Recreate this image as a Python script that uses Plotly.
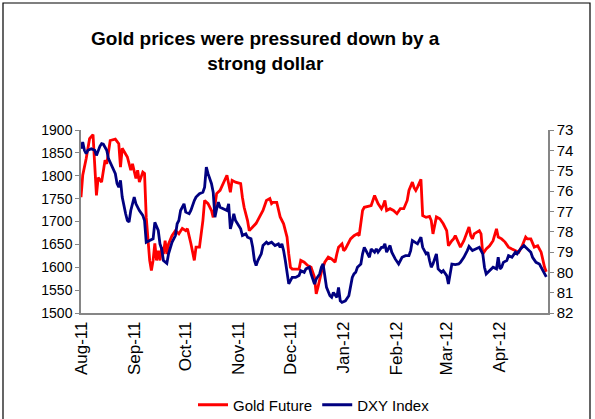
import pandas as pd
import plotly.graph_objects as go

# ---- data ----
start_date = "2011-08-01"   # day 0 of the series below
end_date = "2012-04-29"

# (days since 1-Aug-2011, Gold future price USD/oz)
gold_points = [
    (0, 1753), (1, 1801), (3, 1837), (5, 1881), (7, 1890), (8, 1823), (9, 1757), (10, 1796),
    (12, 1786), (14, 1834), (15, 1826), (17, 1877), (20, 1880), (22, 1870), (23, 1819), (24, 1860),
    (27, 1841), (29, 1812), (30, 1826), (32, 1794), (33, 1812), (34, 1786), (36, 1808), (37, 1805),
    (38, 1709), (40, 1615), (41, 1593), (42, 1615), (43, 1652), (44, 1615), (45, 1636), (46, 1615),
    (47, 1644), (48, 1629), (49, 1658), (50, 1629), (51, 1651), (53, 1669), (55, 1680), (57, 1673),
    (59, 1685), (61, 1680), (62, 1684), (64, 1652), (66, 1615), (67, 1644), (69, 1644), (71, 1702),
    (72, 1746), (74, 1739), (76, 1724), (77, 1709), (78, 1731), (79, 1761), (81, 1768), (83, 1783),
    (85, 1801), (87, 1764), (88, 1790), (90, 1786), (93, 1783), (94, 1753), (95, 1731), (97, 1702),
    (98, 1680), (100, 1688), (102, 1696), (104, 1710), (106, 1724), (108, 1746), (110, 1750),
    (111, 1739), (112, 1742), (114, 1742), (115, 1728), (116, 1710), (118, 1695), (120, 1666),
    (121, 1629), (122, 1600), (123, 1596), (125, 1596), (127, 1596), (128, 1615), (130, 1611),
    (132, 1604), (134, 1600), (136, 1578), (137, 1542), (138, 1556), (139, 1571), (140, 1589),
    (142, 1611), (144, 1622), (146, 1618), (148, 1611), (149, 1629), (150, 1644), (152, 1651),
    (153, 1636), (154, 1640), (156, 1655), (157, 1662), (159, 1669), (161, 1673), (162, 1669),
    (163, 1695), (164, 1724), (165, 1731), (167, 1733), (169, 1735), (171, 1757), (173, 1739),
    (175, 1728), (176, 1735), (177, 1746), (178, 1724), (180, 1728), (182, 1724), (184, 1717),
    (186, 1728), (188, 1728), (190, 1746), (191, 1768), (193, 1786), (194, 1774), (195, 1768),
    (196, 1775), (198, 1792), (199, 1713), (201, 1709), (203, 1711), (204, 1702), (205, 1673),
    (207, 1710), (209, 1706), (211, 1695), (213, 1680), (214, 1647), (216, 1658), (217, 1662),
    (218, 1669), (220, 1651), (221, 1644), (223, 1658), (225, 1677), (226, 1688), (227, 1669),
    (228, 1662), (229, 1673), (231, 1677), (232, 1680), (233, 1673), (234, 1629), (236, 1640),
    (238, 1647), (240, 1658), (242, 1684), (243, 1666), (245, 1662), (247, 1655), (249, 1644),
    (251, 1640), (253, 1637), (255, 1633), (257, 1647), (259, 1666), (260, 1662), (262, 1662),
    (264, 1644), (266, 1647), (268, 1633), (269, 1615), (270, 1600), (271, 1590),
]

# (days since 1-Aug-2011, DXY index level)
dxy_points = [
    (0, 73.92), (1, 73.59), (2, 74.00), (3, 74.16), (4, 74.00), (6, 73.92), (8, 74.00), (9, 74.25),
    (11, 73.80), (12, 73.67), (13, 73.70), (15, 74.00), (16, 74.41), (18, 74.74), (20, 75.15),
    (21, 75.64), (22, 75.81), (23, 75.48), (24, 76.30), (26, 77.12), (27, 77.45), (28, 77.53),
    (29, 76.96), (31, 76.30), (32, 76.63), (34, 76.96), (36, 77.20), (37, 77.45), (38, 78.52),
    (40, 78.44), (42, 78.35), (43, 77.54), (45, 77.94), (46, 78.60), (47, 78.85), (48, 79.42),
    (50, 79.56), (51, 79.09), (52, 78.77), (53, 78.52), (55, 78.19), (56, 77.61), (57, 77.45),
    (58, 76.96), (60, 76.63), (61, 77.04), (63, 77.12), (64, 76.96), (66, 76.47), (67, 76.30),
    (69, 76.13), (71, 76.06), (72, 75.81), (73, 74.82), (74, 75.15), (76, 75.64), (77, 76.06),
    (78, 77.29), (79, 76.88), (80, 76.55), (81, 76.80), (83, 76.88), (85, 76.96), (86, 76.63),
    (87, 77.86), (88, 77.54), (89, 77.12), (90, 77.45), (91, 77.61), (93, 77.86), (94, 78.19),
    (96, 78.11), (97, 78.27), (99, 78.35), (100, 78.77), (101, 79.42), (102, 79.67), (103, 79.42),
    (105, 79.09), (106, 78.68), (108, 78.52), (109, 78.60), (111, 78.52), (113, 78.68), (115, 78.60),
    (116, 78.77), (117, 78.60), (118, 78.93), (119, 79.42), (120, 80.08), (121, 80.57), (123, 80.25),
    (125, 80.25), (127, 80.16), (128, 79.92), (130, 80.00), (131, 79.83), (133, 79.75), (134, 80.08),
    (136, 80.57), (137, 80.33), (139, 80.08), (140, 79.75), (141, 79.59), (142, 80.08), (143, 80.74),
    (145, 81.15), (146, 81.23), (147, 80.99), (149, 81.23), (150, 80.74), (151, 81.40), (152, 81.48),
    (154, 81.40), (156, 81.15), (157, 80.74), (158, 80.25), (159, 80.08), (160, 80.00), (161, 79.75),
    (163, 79.59), (164, 79.09), (165, 78.77), (166, 78.93), (168, 79.26), (169, 78.85), (171, 79.01),
    (172, 78.85), (173, 79.01), (175, 78.77), (176, 78.77), (177, 78.60), (178, 79.01), (180, 78.68),
    (181, 79.01), (183, 79.34), (185, 79.59), (187, 79.26), (189, 79.18), (191, 79.18), (192, 78.93),
    (193, 78.44), (195, 78.52), (196, 78.60), (198, 78.27), (199, 78.77), (201, 79.09), (202, 79.01),
    (203, 79.42), (204, 79.75), (205, 79.59), (207, 79.09), (208, 79.83), (210, 80.00), (211, 79.92),
    (213, 80.16), (214, 80.57), (215, 80.00), (216, 79.59), (218, 79.62), (220, 79.59), (221, 79.51),
    (223, 79.26), (225, 78.93), (226, 78.73), (228, 78.93), (230, 78.85), (232, 78.77), (234, 79.09),
    (235, 79.75), (236, 80.08), (238, 79.92), (240, 79.75), (242, 79.83), (243, 79.26), (244, 79.83),
    (245, 79.75), (246, 79.51), (248, 79.42), (249, 79.18), (251, 79.26), (253, 79.01), (254, 79.09),
    (256, 78.85), (258, 78.68), (259, 78.77), (261, 78.93), (262, 79.01), (263, 79.26), (265, 79.51),
    (267, 79.59), (268, 79.75), (270, 80.00), (271, 80.22),
]

tick_dates = ["2011-08-01", "2011-09-01", "2011-10-01", "2011-11-01", "2011-12-01",
              "2012-01-01", "2012-02-01", "2012-03-01", "2012-04-01"]
tick_labels = ["Aug-11", "Sep-11", "Oct-11", "Nov-11", "Dec-11",
               "Jan-12", "Feb-12", "Mar-12", "Apr-12"]
left_ticks = [1500, 1550, 1600, 1650, 1700, 1750, 1800, 1850, 1900]
right_ticks = [73, 74, 75, 76, 77, 78, 79, 80, 81, 82]

series_names = ["Gold Future", "DXY Index"]
title_text = "Gold prices were pressured down by a<br>strong dollar"

# ---- build ----
t0 = pd.Timestamp(start_date)
gold_days, gold_vals = zip(*gold_points)
dxy_days, dxy_vals = zip(*dxy_points)
gold_x = t0 + pd.to_timedelta(list(gold_days), unit="D")
dxy_x = t0 + pd.to_timedelta(list(dxy_days), unit="D")

FONT = "Liberation Sans, Arial, sans-serif"
AXIS_COL = "#868686"

fig = go.Figure()
fig.add_trace(go.Scatter(x=gold_x, y=list(gold_vals), name=series_names[0], mode="lines",
                         line=dict(color="#FF0000", width=2.8), yaxis="y"))
fig.add_trace(go.Scatter(x=dxy_x, y=list(dxy_vals), name=series_names[1], mode="lines",
                         line=dict(color="#000080", width=2.8), yaxis="y2"))

W, H = 595, 419
ml, mr, mt, mb = 81, 47, 130, 106
pw, ph = W - ml - mr, H - mt - mb


def px(x):
    return (x - ml) / pw


def py(y):
    return (H - mb - y) / ph


fig.update_layout(
    width=W, height=H,
    margin=dict(l=ml, r=mr, t=mt, b=mb, pad=0, autoexpand=False),
    paper_bgcolor="white", plot_bgcolor="white",
    font=dict(family=FONT, color="black", size=14),
    showlegend=True,
    legend=dict(orientation="h", x=px(314), y=py(405), xanchor="center", yanchor="middle",
                font=dict(size=15), itemwidth=30, tracegroupgap=0, bgcolor="rgba(0,0,0,0)"),
    xaxis=dict(type="date", range=[start_date, end_date], tickmode="array",
               tickvals=tick_dates, ticktext=tick_labels, tickangle=-90, automargin=False,
               showgrid=False, zeroline=False, showline=True, linecolor=AXIS_COL, linewidth=1.5,
               ticks="", tickfont=dict(size=17)),
    yaxis=dict(range=[1500, 1900], tickmode="array", tickvals=left_ticks, automargin=False,
               showgrid=False, zeroline=False, showline=True, linecolor=AXIS_COL, linewidth=1.5,
               ticks="outside", ticklen=4, tickcolor=AXIS_COL, tickfont=dict(size=14)),
    yaxis2=dict(range=[82, 73], overlaying="y", side="right", tickmode="array",
                tickvals=right_ticks, anchor="x", automargin=False,
                showgrid=False, zeroline=False, showline=True, linecolor=AXIS_COL, linewidth=1.5,
                ticks="outside", ticklen=4, tickcolor=AXIS_COL, tickfont=dict(size=15)),
    annotations=[dict(text="<b>" + title_text + "</b>", x=px(265), y=py(51),
                      xref="paper", yref="paper", xanchor="center", yanchor="middle",
                      showarrow=False, font=dict(size=19, family=FONT))],
    shapes=[dict(type="rect", xref="paper", yref="paper",
                 x0=px(3), x1=px(590), y0=py(430), y1=py(3),
                 line=dict(color="black", width=1.2), fillcolor="rgba(0,0,0,0)", layer="below")],
)

fig.write_html("out.html",
               config={"displayModeBar": False},
               post_script="document.body.style.margin='0';document.body.style.padding='0';")
